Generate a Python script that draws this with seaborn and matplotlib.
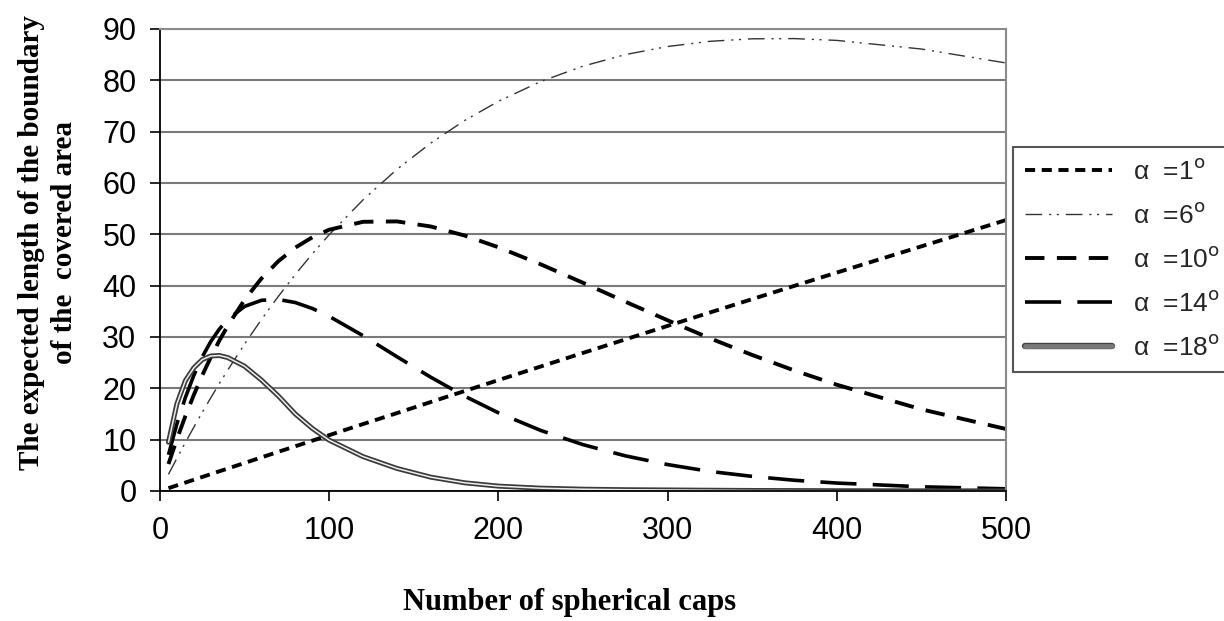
import matplotlib
matplotlib.use('Agg')
import matplotlib.pyplot as plt
import matplotlib.patheffects as pe
from matplotlib.lines import Line2D
import seaborn as sns

# ---- data ----
caps = [5, 10, 15, 20, 25, 30, 35, 40, 50, 60, 70, 80, 90, 100, 120, 140, 160,
        180, 200, 225, 250, 275, 300, 325, 350, 375, 400, 450, 500]

len_a1 = [0.55, 1.10, 1.64, 2.19, 2.74, 3.28, 3.83, 4.37, 5.46, 6.55, 7.64, 8.72,
          9.80, 10.88, 13.04, 15.17, 17.33, 19.47, 21.60, 24.25, 26.90, 29.53,
          32.16, 34.77, 37.38, 39.97, 42.55, 47.66, 52.78]

len_a6 = [3.24, 6.39, 9.45, 12.43, 15.33, 18.15, 20.89, 23.54, 28.63, 33.43, 37.94,
          42.20, 46.19, 49.93, 56.72, 62.65, 67.77, 72.17, 75.91, 79.77, 82.76,
          85.01, 86.59, 87.60, 88.09, 88.13, 87.78, 86.10, 83.38]

len_a10 = [5.25, 10.11, 14.60, 18.73, 22.55, 26.04, 29.25, 32.17, 37.26, 41.42,
           44.78, 47.42, 49.42, 50.90, 52.44, 52.52, 51.53, 49.77, 47.48, 44.16,
           40.56, 36.88, 33.26, 29.75, 26.50, 23.46, 20.70, 15.91, 12.08]

len_a14 = [7.05, 13.09, 18.22, 22.54, 26.14, 29.11, 31.51, 33.41, 35.96, 37.15,
           37.31, 36.71, 35.56, 34.02, 30.26, 26.17, 22.17, 18.49, 15.23, 11.80,
           9.03, 6.85, 5.15, 3.81, 2.85, 2.09, 1.55, 0.82, 0.43]

len_a18 = [9.5, 17.0, 21.5, 24.0, 25.6, 26.3, 26.4, 26.0, 24.3, 21.6, 18.5, 15.0,
           12.2, 9.9, 6.7, 4.4, 2.7, 1.6, 0.95, 0.55, 0.35, 0.25, 0.2, 0.15, 0.1,
           0.08, 0.05, 0.03, 0.02]

series_labels = ['α  =1$^{\\rm o}$', 'α  =6$^{\\rm o}$', 'α  =10$^{\\rm o}$',
                 'α  =14$^{\\rm o}$', 'α  =18$^{\\rm o}$']
x_ticks = [0, 100, 200, 300, 400, 500]
y_ticks = [0, 10, 20, 30, 40, 50, 60, 70, 80, 90]
x_label = 'Number of spherical caps'
y_label = 'The expected length of the boundary\nof the  covered area'

# ---- styling ----
sns.set_theme(style='white')
plt.rcParams['font.family'] = ['Liberation Sans', 'DejaVu Sans']

fig = plt.figure(figsize=(12.24, 6.21), dpi=100)
L, R, B, T = 160 / 1224, 1006 / 1224, 1 - 491 / 621, 1 - 29 / 621
ax = fig.add_axes([L, B, R - L, T - B])

ax.yaxis.grid(True, color='#7a7a7a', lw=1.5)
ax.xaxis.grid(False)
ax.set_axisbelow(True)

sns.lineplot(x=caps, y=len_a1, ax=ax, color='black', lw=2.8,
             linestyle=(0, (2.6, 1.7)), label=series_labels[0])
sns.lineplot(x=caps, y=len_a6, ax=ax, color='#333333', lw=1.0,
             linestyle=(0, (12, 5, 1.5, 4, 1.5, 5)), label=series_labels[1])
sns.lineplot(x=caps, y=len_a10, ax=ax, color='black', lw=2.8,
             linestyle=(0, (5.0, 3.2)), label=series_labels[2])
sns.lineplot(x=caps, y=len_a14, ax=ax, color='black', lw=2.6,
             linestyle=(0, (10, 4.5)), label=series_labels[3])
sns.lineplot(x=caps, y=len_a18, ax=ax, color='#eeeeee', lw=1.1,
             path_effects=[pe.Stroke(linewidth=3.6, foreground='#3a3a3a'), pe.Normal()],
             label=series_labels[4])

ax.set_xlim(0, 500)
ax.set_ylim(0, 90)
ax.set_xticks(x_ticks)
ax.set_yticks(y_ticks)
ax.tick_params(axis='both', direction='out', length=7, width=1.2, color='black',
               labelsize=22, labelcolor='black', bottom=True, left=True)
ax.tick_params(axis='x', pad=11)
ax.tick_params(axis='y', pad=10)

for side in ['left', 'bottom']:
    ax.spines[side].set_color('black')
    ax.spines[side].set_linewidth(1.3)
for side in ['right', 'top']:
    ax.spines[side].set_color('#8a8a8a')
    ax.spines[side].set_linewidth(1.5)

ax.set_xlabel(x_label, fontfamily='Liberation Serif', fontweight='bold',
              fontsize=22, color='black')
ax.xaxis.set_label_coords((570 - 160) / 846, (491 - 588) / 462)
ax.set_ylabel(y_label, fontfamily='Liberation Serif', fontweight='bold',
              fontsize=21, color='black', linespacing=1.3)
ax.yaxis.set_label_coords((78 - 160) / 846, (491 - 243) / 462)

handles, labs = ax.get_legend_handles_labels()
if ax.get_legend() is not None:
    ax.get_legend().remove()
handles[4] = Line2D([], [], color='#7a7a7a', lw=3.4,
                    path_effects=[pe.Stroke(linewidth=4.6, foreground='#444444'), pe.Normal()])
leg = fig.legend(handles, labs, loc='upper left', bbox_to_anchor=(1013 / 1224, 1 - 147 / 621),
                 frameon=True, fancybox=False, edgecolor='#555555', framealpha=1,
                 fontsize=19, handlelength=3.3, labelspacing=0.72, borderpad=0.45,
                 handletextpad=0.8, borderaxespad=0)
leg.get_frame().set_linewidth(1.5)

fig.savefig('out.png', dpi=100)
